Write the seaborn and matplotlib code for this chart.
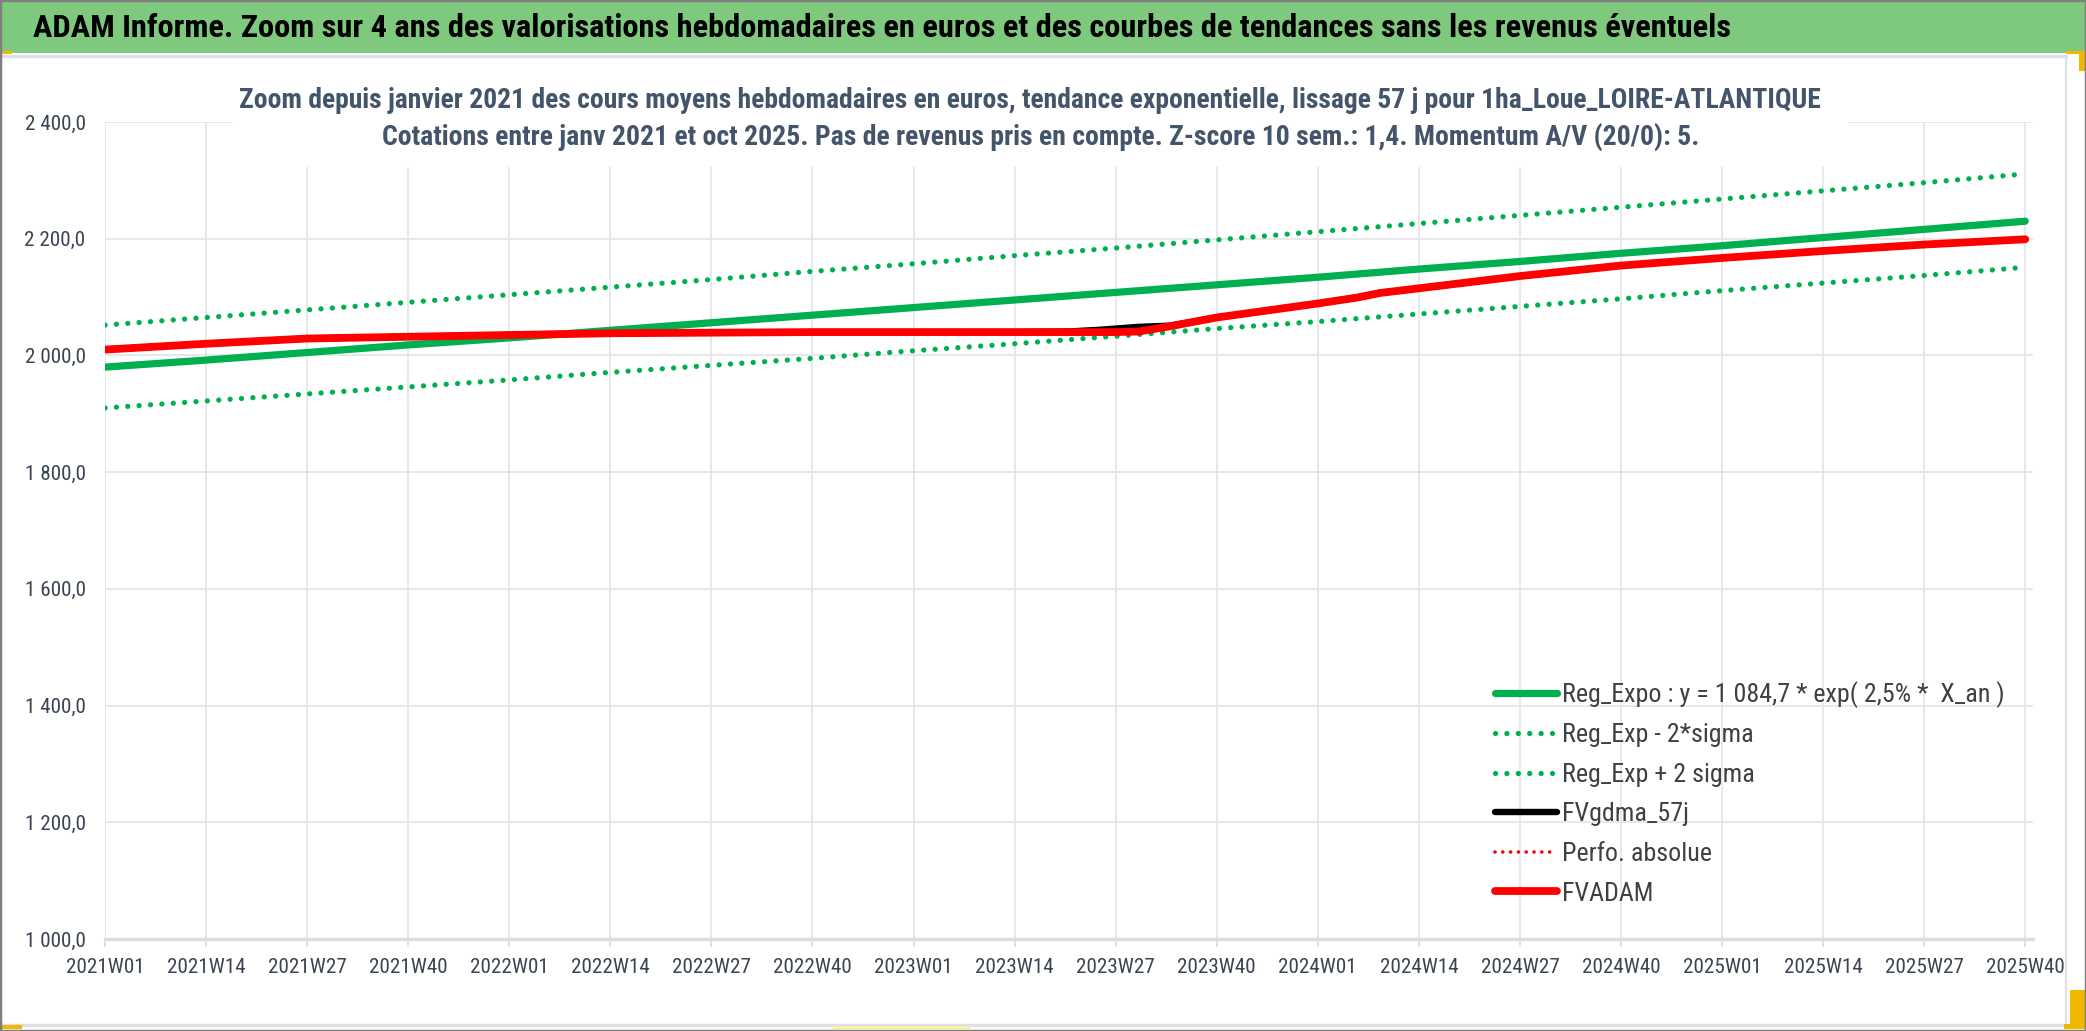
import numpy as np
import pandas as pd
import matplotlib
matplotlib.use("Agg")
import matplotlib.pyplot as plt
from matplotlib import font_manager
from matplotlib.patches import Rectangle
from matplotlib.lines import Line2D
from matplotlib.ticker import FuncFormatter
import seaborn as sns

# ---- values ----
x_labels = ["2021W01", "2021W14", "2021W27", "2021W40", "2022W01", "2022W14", "2022W27",
            "2022W40", "2023W01", "2023W14", "2023W27", "2023W40", "2024W01", "2024W14",
            "2024W27", "2024W40", "2025W01", "2025W14", "2025W27", "2025W40"]

# trend curves, one value per labelled week
reg_expo = [1980, 1992, 2005, 2018, 2030, 2043, 2056, 2069, 2082, 2095,
            2108, 2121, 2134, 2148, 2161, 2175, 2188, 2202, 2216, 2230]
reg_minus = [1910, 1922, 1934, 1946, 1958, 1971, 1983, 1995, 2008, 2020,
             2033, 2046, 2058, 2071, 2084, 2097, 2111, 2124, 2137, 2151]
reg_plus = [2052, 2065, 2078, 2091, 2104, 2117, 2130, 2144, 2157, 2171,
            2184, 2198, 2212, 2226, 2240, 2254, 2268, 2282, 2296, 2311]

# valuations (week number since 2021W01)
fv_weeks = [0, 13, 26, 39, 52, 65, 78, 91, 104, 117, 124, 128, 130, 133, 137,
            143, 156, 161, 164, 169, 182, 195, 208, 221, 234, 247]
fvadam = [2010, 2020, 2029, 2032, 2035, 2038, 2039, 2040, 2040, 2040, 2040, 2040, 2040,
          2041, 2050, 2065, 2089, 2099, 2107, 2115, 2136, 2154, 2167, 2179, 2190, 2199]
fvgdma = [2010, 2020, 2029, 2032, 2035, 2038, 2039, 2040, 2040, 2040, 2041, 2044, 2046,
          2049, 2051, 2065, 2089, 2099, 2107, 2115, 2136, 2154, 2167, 2179, 2190, 2199]
perfo_weeks = []
perfo = []

y_ticks = [1000, 1200, 1400, 1600, 1800, 2000, 2200, 2400]

header = ("ADAM Informe. Zoom sur 4 ans des valorisations hebdomadaires en euros "
          "et des courbes de tendances sans les revenus éventuels")
title1 = ("Zoom depuis janvier 2021 des cours moyens hebdomadaires en euros, tendance "
          "exponentielle, lissage 57 j pour 1ha_Loue_LOIRE-ATLANTIQUE")
title2 = ("Cotations entre janv 2021 et oct 2025. Pas de revenus pris en compte. "
          "Z-score 10 sem.: 1,4. Momentum A/V (20/0): 5.")
lab_expo = "Reg_Expo : y = 1 084,7 * exp( 2,5% *  X_an )"
lab_minus = "Reg_Exp - 2*sigma"
lab_plus = "Reg_Exp + 2 sigma"
lab_gdma = "FVgdma_57j"
lab_perfo = "Perfo. absolue"
lab_adam = "FVADAM"

trend = pd.DataFrame({"week": [13 * i for i in range(len(x_labels))],
                      "expo": reg_expo, "minus": reg_minus, "plus": reg_plus})
fv = pd.DataFrame({"week": fv_weeks, "fvadam": fvadam, "fvgdma": fvgdma})

sns.set_theme(style="white")

# the original uses a squeezed Calibri; pick a condensed family with regular + bold
fl = font_manager.fontManager.ttflist
family, stretch = "DejaVu Sans", "condensed"
for cand in ["Roboto Condensed", "Asap Condensed", "Open Sans Condensed",
             "Barlow Semi Condensed", "Encode Sans Condensed", "Liberation Sans Narrow"]:
    weights = {int(f.weight) for f in fl if f.name == cand and f.style == "normal"}
    if 400 in weights and 700 in weights:
        family, stretch = cand, "normal"
        break
plt.rcParams["font.family"] = [family, "DejaVu Sans"]
plt.rcParams["font.stretch"] = stretch

W, H = 2086, 1031
fig = plt.figure(figsize=(W / 100, H / 100), dpi=100)
fig.patch.set_facecolor("white")
rend = fig.canvas.get_renderer()


def fx(px):
    return px / W


def fy(py):
    return 1 - py / H


def size_for(text, target_px, weight="normal"):
    t = fig.text(0, 0, text, fontsize=10, fontweight=weight)
    w = t.get_window_extent(renderer=rend).width
    t.remove()
    return 10 * target_px / w


tick_size = size_for("2021W01", 78)
leg_size = size_for(lab_expo, 440)

ax = fig.add_axes([fx(105), fy(939), (2033 - 105) / W, (939 - 122) / H])

dots = (0, (0.01, 2.15))
sns.lineplot(data=trend, x="week", y="expo", ax=ax, color="#00B050", lw=5.2,
             solid_capstyle="round", label=lab_expo)
sns.lineplot(data=trend, x="week", y="minus", ax=ax, color="#00B050", lw=3.8,
             linestyle=dots, dash_capstyle="round", label=lab_minus)
sns.lineplot(data=trend, x="week", y="plus", ax=ax, color="#00B050", lw=3.8,
             linestyle=dots, dash_capstyle="round", label=lab_plus)
sns.lineplot(data=fv, x="week", y="fvgdma", ax=ax, color="black", lw=4.6,
             solid_capstyle="round", label=lab_gdma)
ax.plot(perfo_weeks, perfo, color="#FF0000", lw=2.6, linestyle=dots,
        dash_capstyle="round", label=lab_perfo)
sns.lineplot(data=fv, x="week", y="fvadam", ax=ax, color="#FF0000", lw=5.6,
             solid_capstyle="round", label=lab_adam)

ax.set_xlim(0, 248)
ax.set_ylim(1000, 2400)
ax.set_xticks([13 * i for i in range(len(x_labels))])
ax.set_xticklabels(x_labels)
ax.set_yticks(y_ticks)
ax.yaxis.set_major_formatter(FuncFormatter(
    lambda v, p: f"{v:,.1f}".replace(",", " ").replace(".", ",")))
ax.set_xlabel("")
ax.set_ylabel("")
ax.grid(True, color="#E1E4E9", lw=1.2)
for s in ax.spines.values():
    s.set_visible(False)
ax.spines["bottom"].set_visible(True)
ax.spines["bottom"].set_color("#D9DCE1")
ax.spines["bottom"].set_linewidth(2.4)
ax.tick_params(axis="x", length=6, width=1.2, color="#D9DCE1", pad=8,
               labelsize=tick_size, labelcolor="#3B4453", bottom=True)
ax.tick_params(axis="y", length=0, pad=14, labelsize=tick_size, labelcolor="#3B4453")

leg_px = leg_size / 0.72
leg = ax.legend(loc="upper left", bbox_to_anchor=(fx(1495), fy(681)),
                bbox_transform=fig.transFigure, frameon=False, fontsize=leg_size,
                handlelength=62 / leg_px, handletextpad=5 / leg_px,
                labelspacing=(39 - 0.9 * leg_px) / leg_px,
                borderpad=0, borderaxespad=0)
for t in leg.get_texts():
    t.set_color("#404040")

# frame, header band, white box behind the chart title
fig.add_artist(Rectangle((0, fy(53)), 1, 53 / H, transform=fig.transFigure,
                         facecolor="#7FC97F", edgecolor="none", zorder=0))
fig.add_artist(Rectangle((fx(233), fy(167)), (1848 - 233) / W, (167 - 58) / H,
                         transform=fig.transFigure, facecolor="white",
                         edgecolor="none", zorder=2))
fig.add_artist(Line2D([0, fx(2066)], [fy(56), fy(56)], transform=fig.transFigure,
                      color="#DDE0E5", lw=2.5, zorder=2))
fig.add_artist(Line2D([fx(2066), fx(2066)], [fy(56), fy(1025)], transform=fig.transFigure,
                      color="#DDE0E5", lw=1.5, zorder=2))
fig.add_artist(Line2D([0, fx(2066)], [fy(1025), fy(1025)], transform=fig.transFigure,
                      color="#DDE0E5", lw=2.5, zorder=2))
for (x0, y0, w, h, c) in [(0, 51, 12, 3, "#F2B700"), (2066, 51, 20, 3, "#F2B700"),
                          (2079, 51, 7, 20, "#F2B700"), (2070, 990, 16, 38, "#F2B700"),
                          (2064, 1024, 22, 5, "#F2B700"), (0, 1025, 22, 4, "#F2B700"),
                          (833, 1026, 137, 3, "#FAF0A0")]:
    fig.add_artist(Rectangle((fx(x0), fy(y0 + h)), w / W, h / H, transform=fig.transFigure,
                             facecolor=c, edgecolor="none", zorder=3))
fig.add_artist(Rectangle((0, 0), 1, 1, transform=fig.transFigure, facecolor="none",
                         edgecolor="#7F7F7F", lw=2.5, zorder=4))

t_head = fig.text(fx(33), fy(28), header, ha="left", va="center", fontsize=22,
                  fontweight="bold", color="black", zorder=5)
t_1 = fig.text(fx(1030), fy(100), title1, ha="center", va="center", fontsize=16,
               fontweight="bold", color="#44546A", zorder=5)
t_2 = fig.text(fx(1041), fy(137), title2, ha="center", va="center", fontsize=16,
               fontweight="bold", color="#44546A", zorder=5)

fig.canvas.draw()
for t, target in [(t_head, 1697), (t_1, 1580), (t_2, 1318)]:
    w = t.get_window_extent(renderer=rend).width
    t.set_fontsize(t.get_fontsize() * target / w)

fig.savefig("out.png", dpi=100)
